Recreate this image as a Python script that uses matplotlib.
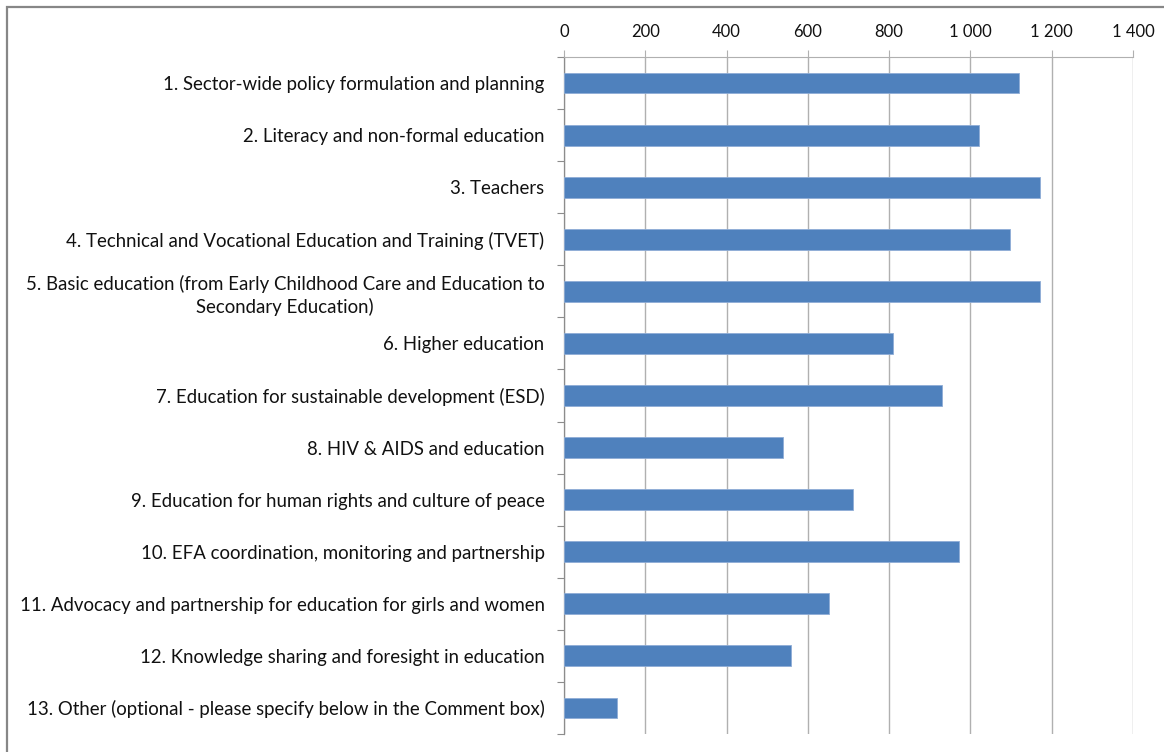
import matplotlib
matplotlib.use("Agg")
import matplotlib.pyplot as plt
from matplotlib.patches import Rectangle
from matplotlib.ticker import FuncFormatter

categories = [
    "1. Sector-wide policy formulation and planning",
    "2. Literacy and non-formal education",
    "3. Teachers",
    "4. Technical and Vocational Education and Training (TVET)",
    "5. Basic education (from Early Childhood Care and Education to\nSecondary Education)",
    "6. Higher education",
    "7. Education for sustainable development (ESD)",
    "8. HIV & AIDS and education",
    "9. Education for human rights and culture of peace",
    "10. EFA coordination, monitoring and partnership",
    "11. Advocacy and partnership for education for girls and women",
    "12. Knowledge sharing and foresight in education",
    "13. Other (optional - please specify below in the Comment box)",
]
values = [1120, 1021, 1170, 1097, 1172, 810, 930, 540, 710, 972, 653, 559, 130]
x_ticks = [0, 200, 400, 600, 800, 1000, 1200, 1400]

plt.rcParams["font.family"] = ["Lato", "DejaVu Sans"]
text_color = "#111111"
bar_color = "#4F81BD"
grid_color = "#B0B0B0"

W, H = 1164, 752
fig = plt.figure(figsize=(W / 100, H / 100), dpi=100)
fig.patch.set_facecolor("white")

# outer chart frame
fig.add_artist(Rectangle((7 / W, -0.05), 1.2, 1 - 7 / H + 0.05,
                         transform=fig.transFigure, fill=False,
                         edgecolor="#878787", linewidth=1.6))

left, right, top, bottom = 564, 1133, 57, 734
ax = fig.add_axes([left / W, 1 - bottom / H, (right - left) / W, (bottom - top) / H])

n = len(categories)
pos = list(range(n))
ax.barh(pos, values, height=0.4, color=bar_color, edgecolor="#8FADD6",
        linewidth=0.6, zorder=3)

ax.set_xlim(0, 1400)
ax.set_ylim(n - 0.5, -0.5)

ax.xaxis.tick_top()
ax.set_xticks(x_ticks)
ax.xaxis.set_major_formatter(FuncFormatter(lambda v, p: f"{int(v):,}".replace(",", " ")))
ax.tick_params(axis="x", which="major", length=5, width=0.8, color=grid_color,
               pad=7, labelsize=12, labelcolor=text_color)
ax.grid(axis="x", color=grid_color, linewidth=1.0, zorder=0)

ax.set_yticks(pos)
ax.set_yticklabels(categories, multialignment="center", linespacing=1.35)
ax.set_yticks([i - 0.5 for i in range(n + 1)], minor=True)
ax.tick_params(axis="y", which="major", length=0, pad=14, labelsize=13.4,
               labelcolor=text_color)
ax.tick_params(axis="y", which="minor", length=5, width=0.8, color="#8C8C8C")

for s in ("right", "bottom"):
    ax.spines[s].set_visible(False)
ax.spines["left"].set_color("#8C8C8C")
ax.spines["left"].set_linewidth(0.9)
ax.spines["top"].set_color(grid_color)
ax.spines["top"].set_linewidth(0.8)

fig.savefig("out.png", dpi=100)
